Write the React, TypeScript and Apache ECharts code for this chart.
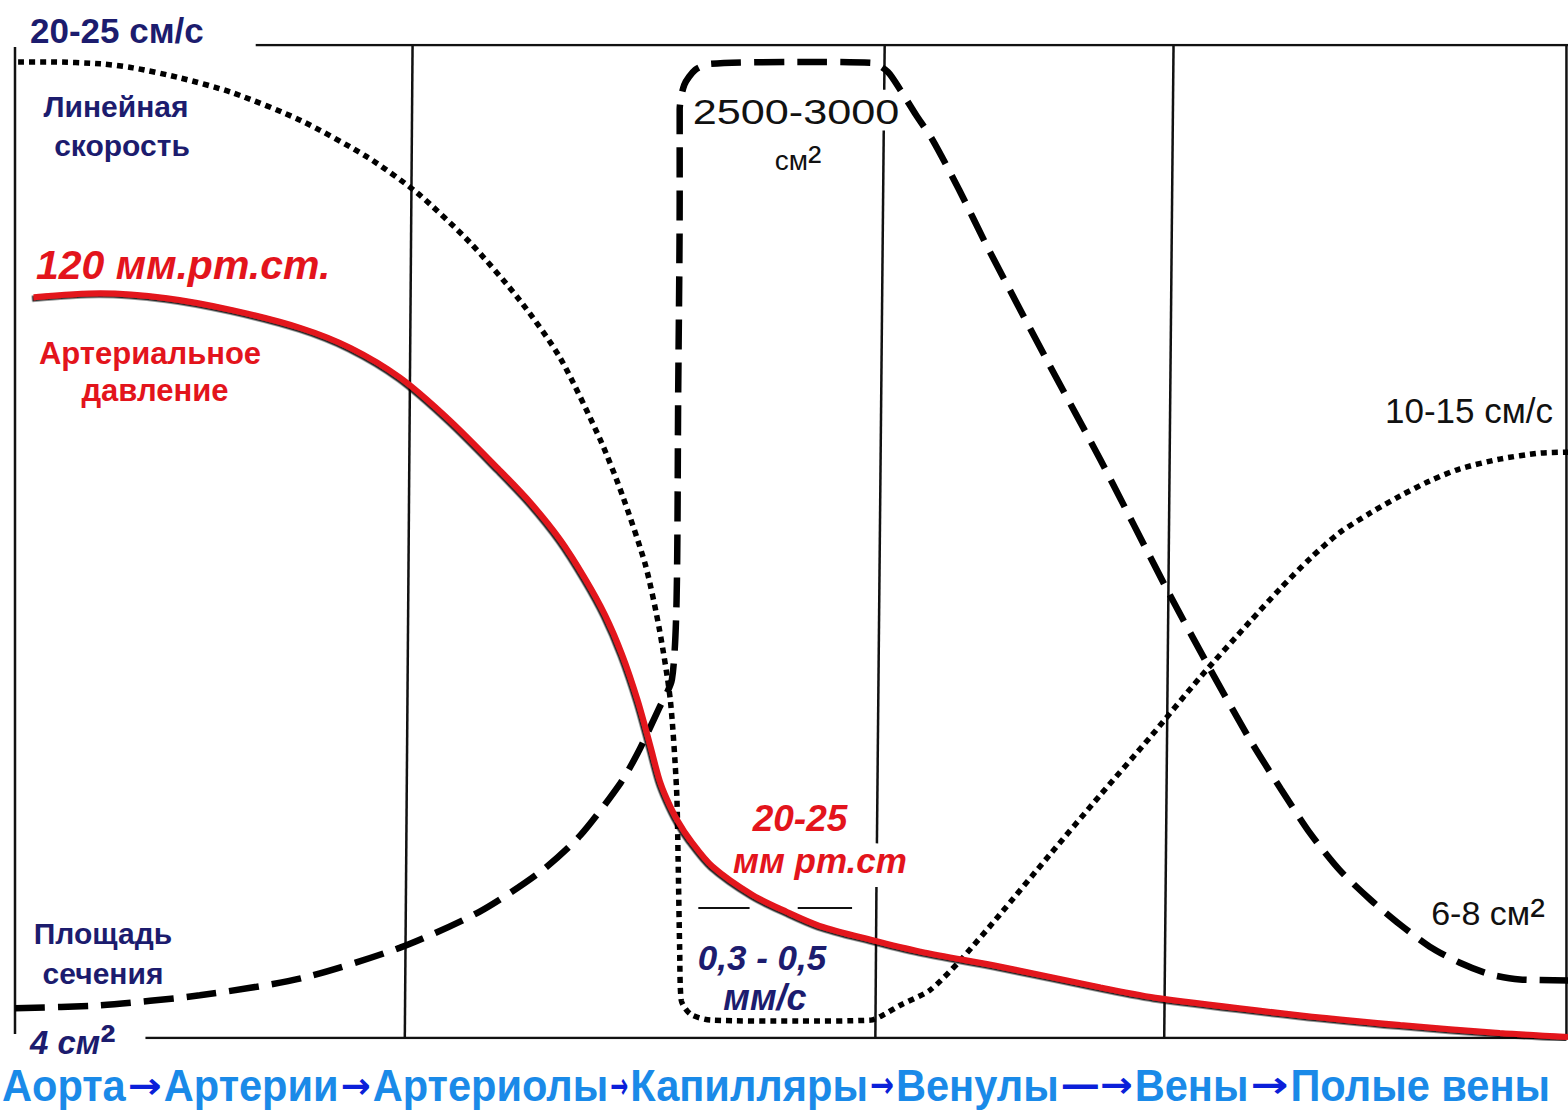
import React, { useEffect, useRef } from "react";
import * as echarts from "echarts";

// Positions along the vascular bed (0..100) and normalized curve heights (0..100)
const velocityCurve: [number, number][] = [
  [0.2, 98.3], [2.3, 98.3], [5.5, 98.1], [7.6, 97.7], [10.6, 96.7], [14.0, 95.2],
  [18.4, 92.4], [22.7, 88.7], [25.9, 85.1], [29.3, 80.1], [32.5, 74.3], [35.1, 68.5],
  [37.7, 60.2], [39.1, 54.7], [40.6, 47.6], [41.5, 41.1], [42.2, 34.0], [42.6, 25.0],
  [42.7, 17.9], [42.8, 8.9], [42.9, 3.8], [43.5, 2.4], [44.8, 1.8], [50.5, 1.7],
  [55.1, 1.8], [56.0, 2.4], [57.0, 3.3], [58.9, 4.8], [60.8, 7.7], [63.4, 12.4],
  [66.6, 18.4], [69.9, 24.5], [73.1, 30.3], [76.3, 36.3], [79.5, 41.9], [81.5, 45.3],
  [83.4, 48.3], [85.3, 50.9], [87.3, 52.9], [89.2, 54.6], [91.1, 56.1], [93.0, 57.3],
  [95.6, 58.3], [98.2, 58.9], [100, 59.0],
];

const areaCurve: [number, number][] = [
  [0, 3.0], [5.5, 3.3], [11.9, 4.3], [18.4, 6.0], [24.8, 9.1], [29.9, 12.7],
  [33.8, 16.7], [36.4, 20.4], [39.0, 25.7], [40.1, 28.7], [41.5, 33.3], [42.3, 36.1],
  [42.6, 44.1], [42.7, 64.2], [42.8, 84.4], [42.8, 93.5], [43.1, 96.0], [43.8, 97.5],
  [44.8, 98.1], [50.5, 98.3], [55.2, 98.2], [56.2, 97.3], [57.0, 95.5], [58.0, 93.0],
  [59.1, 90.4], [60.8, 85.4], [62.6, 79.7], [66.6, 67.8], [69.9, 58.2], [74.2, 45.1],
  [76.9, 37.3], [79.5, 30.1], [81.5, 25.1], [83.4, 20.6], [85.3, 16.9], [87.3, 13.9],
  [89.2, 11.4], [91.1, 9.2], [93.0, 7.6], [95.0, 6.4], [96.9, 5.9], [100, 5.8],
];

const pressureCurve: [number, number][] = [
  [1.2, 74.6], [5.5, 75.0], [9.8, 74.5], [14.0, 73.3], [18.4, 71.5], [21.6, 69.5],
  [24.8, 66.5], [28.0, 62.2], [31.2, 57.2], [33.2, 53.9], [35.1, 50.2], [36.7, 46.3],
  [38.0, 42.6], [39.1, 38.6], [40.1, 34.0], [40.9, 29.5], [41.5, 26.0], [42.0, 24.0],
  [42.7, 21.8], [43.5, 19.9], [44.9, 17.3], [47.5, 14.4], [49.7, 12.7], [51.8, 11.3],
  [55.1, 9.9], [58.3, 8.7], [63.4, 7.2], [69.9, 5.1], [73.7, 4.0], [82.7, 2.3],
  [89.2, 1.3], [95.6, 0.5], [100, 0.1],
];

// Frame and divider segments (start, end)
const frameSegments: [number, number][][] = [
  [[0, 0.4], [0, 99.8]],
  [[15.5, 100], [100, 100]],
  [[8.4, 0], [100, 0]],
  [[99.9, 0], [99.9, 100]],
  [[25.6, 100], [25.1, 0]],
  [[56.0, 100], [55.97, 95.5]],
  [[55.94, 91.4], [55.5, 19.6]],
  [[55.47, 15.2], [55.4, 0]],
  [[74.6, 100], [74.0, 0]],
];
const minorSegments: [number, number][][] = [
  [[44.0, 13.1], [47.3, 13.1]],
  [[50.4, 13.1], [53.9, 13.1]],
];

const bottomWords = ["Аорта", "Артерии", "Артериолы", "Капилляры", "Венулы", "Вены", "Полые вены"];
const bottomArrows = ["→", "→", "→", "→", "—→", "→"];
const arrowSlots = [38, 34, 22, 28, 76, 42];

const NAVY = "#1c1c6e";
const RED = "#e3141c";
const FONT = "'Liberation Sans', Arial, sans-serif";
const WORD_SIZE = 44;
const WORD_SCALE = 0.945;
const ARROW_SIZE = 36;

function measure(text: string, font: string): number {
  const c = document.createElement("canvas").getContext("2d");
  if (!c) return text.length * 20;
  c.font = font;
  return c.measureText(text).width;
}

export default function App() {
  const ref = useRef<HTMLDivElement>(null);

  useEffect(() => {
    if (!ref.current) return;
    const chart = echarts.init(ref.current, null, { renderer: "svg" });

    const segSeries = (segs: [number, number][][], width: number) =>
      segs.map((s) => ({
        type: "line",
        data: s,
        showSymbol: false,
        symbol: "none",
        silent: true,
        lineStyle: { color: "#111", width, type: "solid" },
        z: 1,
      }));

    const txt = (
      text: string,
      x: number,
      y: number,
      size: number,
      color: string,
      opts: any = {}
    ) => ({
      type: "text",
      x,
      y,
      scaleX: opts.scaleX ?? 1,
      z: 10,
      style: {
        text,
        fill: color,
        fontSize: size,
        fontFamily: FONT,
        fontWeight: opts.weight ?? "bold",
        fontStyle: opts.italic ? "italic" : "normal",
        align: opts.align ?? "center",
        verticalAlign: "middle",
        rich: opts.rich,
      },
    });

    // bottom caption laid out word by word
    const bottom: any[] = [];
    let cx = 2;
    const BY = 1086;
    bottomWords.forEach((w, i) => {
      const ww = measure(w, `bold ${WORD_SIZE}px 'Liberation Sans'`) * WORD_SCALE;
      bottom.push({
        type: "text",
        x: cx,
        y: BY,
        scaleX: WORD_SCALE,
        z: 10,
        style: {
          text: w, fill: "#1a8ae8", fontSize: WORD_SIZE, fontWeight: "bold",
          fontFamily: FONT, align: "left", verticalAlign: "middle",
        },
      });
      cx += ww;
      if (i < bottomArrows.length) {
        const slot = arrowSlots[i];
        const aw = measure(bottomArrows[i], `bold ${ARROW_SIZE}px 'DejaVu Sans'`);
        const sx = Math.max(0.4, (slot - 4) / aw);
        bottom.push({
          type: "text",
          x: cx + slot / 2,
          y: BY - 1,
          scaleX: sx,
          z: 10,
          style: {
            text: bottomArrows[i], fill: "#0b1fd9", fontSize: ARROW_SIZE, fontWeight: "bold",
            fontFamily: "'DejaVu Sans', sans-serif", align: "center", verticalAlign: "middle",
          },
        });
        cx += slot;
      }
    });

    const option: any = {
      animation: false,
      backgroundColor: "#ffffff",
      grid: { left: 15, right: 0, top: 45, bottom: 79, outerBoundsMode: "none" },
      xAxis: {
        type: "value", min: 0, max: 100,
        axisLine: { show: false }, axisTick: { show: false },
        axisLabel: { show: false }, splitLine: { show: false },
      },
      yAxis: {
        type: "value", min: 0, max: 100,
        axisLine: { show: false }, axisTick: { show: false },
        axisLabel: { show: false }, splitLine: { show: false },
      },
      series: [
        ...segSeries(frameSegments, 2.5),
        ...segSeries(minorSegments, 2),
        {
          name: "Площадь сечения",
          type: "line",
          data: areaCurve,
          smooth: 0.25,
          showSymbol: false,
          symbol: "none",
          lineStyle: { color: "#000", width: 6.5, type: [30, 13], cap: "butt" },
          z: 3,
        },
        {
          name: "Линейная скорость",
          type: "line",
          data: velocityCurve,
          smooth: 0.25,
          showSymbol: false,
          symbol: "none",
          lineStyle: { color: "#000", width: 5.5, type: [6, 5], cap: "butt" },
          z: 3,
        },
        {
          name: "Артериальное давление",
          type: "line",
          data: pressureCurve,
          smooth: 0.3,
          showSymbol: false,
          symbol: "none",
          lineStyle: {
            color: RED, width: 6,
            shadowColor: "rgba(0,0,0,0.85)", shadowBlur: 0,
            shadowOffsetX: -1.5, shadowOffsetY: 1.5,
          },
          z: 4,
        },
      ],
      graphic: [
        txt("20-25 см/с", 30, 30, 35, NAVY, { align: "left" }),
        txt("Линейная", 116, 106, 30, NAVY),
        txt("скорость", 122, 145, 30, NAVY),
        txt("120 мм.рт.ст.", 36, 265, 41, RED, { align: "left", italic: true }),
        txt("Артериальное", 150, 353, 31, RED),
        txt("давление", 155, 390, 31, RED),
        txt("2500-3000", 796, 111, 36, "#111", { weight: "normal", scaleX: 1.2 }),
        txt("{a|см}{s|²}", 798, 160, 28, "#111", {
          weight: "normal",
          rich: {
            a: { fontSize: 28, fontFamily: FONT, fill: "#111" },
            s: { fontSize: 40, fontFamily: FONT, fill: "#111" },
          },
        }),
        txt("10-15 см/с", 1469, 410, 35, "#111", { weight: "normal" }),
        txt("{a|6-8 см}{s|²}", 1488, 913, 34, "#111", {
          weight: "normal",
          rich: {
            a: { fontSize: 34, fontFamily: FONT, fill: "#111" },
            s: { fontSize: 44, fontFamily: FONT, fill: "#111" },
          },
        }),
        txt("20-25", 800, 818, 37, RED, { italic: true }),
        txt("мм рт.ст", 820, 860, 35, RED, { italic: true }),
        txt("0,3 - 0,5", 762, 957, 35, NAVY, { italic: true }),
        txt("мм/с", 765, 997, 36, NAVY, { italic: true }),
        txt("Площадь", 103, 933, 30, NAVY),
        txt("сечения", 103, 973, 30, NAVY),
        txt("{a|4 см}{s|²}", 30, 1042, 33, NAVY, {
          align: "left",
          rich: {
            a: { fontSize: 33, fontFamily: FONT, fill: NAVY, fontWeight: "bold", fontStyle: "italic" },
            s: { fontSize: 46, fontFamily: FONT, fill: NAVY, fontWeight: "bold" },
          },
        }),
        ...bottom,
      ],
    };

    chart.setOption(option);
    return () => chart.dispose();
  }, []);

  return (
    <div
      ref={ref}
      style={{
        position: "fixed",
        left: 0,
        top: 0,
        width: 1568,
        height: 1117,
        background: "#fff",
      }}
    />
  );
}
